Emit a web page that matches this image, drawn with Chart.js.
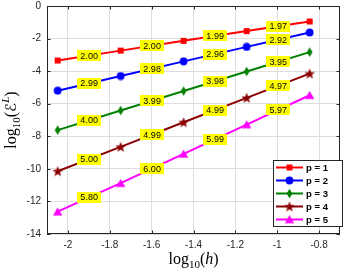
<!DOCTYPE html>
<html><head><meta charset="utf-8">
<style>html,body{margin:0;padding:0;background:#fff;}#wrap{width:346px;height:271px;}</style>
<script src="https://cdn.jsdelivr.net/npm/chart.js@4.4.1/dist/chart.umd.min.js"></script>
</head><body><div id="wrap"><canvas id="c" width="346" height="271"></canvas></div>
<script>
// ---- data ----
const logH = [-2.0492, -1.7482, -1.4472, -1.1461, -0.8451];
const errP1 = [-3.35, -2.74, -2.14, -1.54, -0.95];
const errP2 = [-5.20, -4.30, -3.40, -2.51, -1.63];
const errP3 = [-7.62, -6.42, -5.22, -4.02, -2.83];
const errP4 = [-10.15, -8.65, -7.14, -5.64, -4.15];
const errP5 = [-12.63, -10.88, -9.08, -7.28, -5.48];
const rateP1 = ['2.00', '2.00', '1.99', '1.97'];
const rateP2 = ['2.99', '2.98', '2.96', '2.92'];
const rateP3 = ['4.00', '3.99', '3.98', '3.95'];
const rateP4 = ['5.00', '4.99', '4.99', '4.97'];
const rateP5 = ['5.80', '6.00', '5.99', '5.97'];
const seriesNames = ['p = 1', 'p = 2', 'p = 3', 'p = 4', 'p = 5'];
const xTicks = [-2, -1.8, -1.6, -1.4, -1.2, -1, -0.8];
const yTicks = [0, -2, -4, -6, -8, -10, -12, -14];

const colors = ['#ff0000', '#0000ff', '#008000', '#8b0000', '#ff00ff'];
const shapes = ['square', 'circle', 'diamond', 'star', 'triangle'];
const errs = [errP1, errP2, errP3, errP4, errP5];
const rates = [rateP1, rateP2, rateP3, rateP4, rateP5];

function makeMarker(shape, color) {
  const c = document.createElement('canvas');
  let w = 8, h = 8;
  if (shape === 'circle') { w = 9; h = 9; }
  if (shape === 'diamond') { w = 7; h = 11; }
  if (shape === 'star') { w = 12; h = 12; }
  if (shape === 'triangle') { w = 11; h = 10; }
  c.width = w; c.height = h;
  const g = c.getContext('2d');
  g.fillStyle = color; g.strokeStyle = color; g.lineWidth = 1;
  g.beginPath();
  if (shape === 'square') { g.rect(1, 1, 6, 6); }
  else if (shape === 'circle') { g.arc(4.5, 4.5, 3.9, 0, Math.PI * 2); }
  else if (shape === 'diamond') { g.moveTo(3.5, 0.8); g.lineTo(6.4, 5.5); g.lineTo(3.5, 10.2); g.lineTo(0.6, 5.5); g.closePath(); }
  else if (shape === 'star') {
    for (let i = 0; i < 10; i++) {
      const r = i % 2 === 0 ? 5.6 : 2.3;
      const a = -Math.PI / 2 + i * Math.PI / 5;
      const px = 6 + r * Math.cos(a), py = 6.4 + r * Math.sin(a);
      if (i === 0) g.moveTo(px, py); else g.lineTo(px, py);
    }
    g.closePath();
  }
  else if (shape === 'triangle') { g.moveTo(5.5, 0.8); g.lineTo(10.2, 8.8); g.lineTo(0.8, 8.8); g.closePath(); }
  g.fill();
  return c;
}
const markers = shapes.map((s, i) => makeMarker(s, colors[i]));

const datasets = errs.map((e, i) => ({
  label: seriesNames[i],
  data: logH.map((x, k) => ({ x: x, y: e[k] })),
  borderColor: colors[i],
  backgroundColor: colors[i],
  borderWidth: 2,
  pointStyle: markers[i],
  pointRadius: 4,
  tension: 0,
  clip: false
}));

const FRAME = '#262626';
const GRID = '#dedede';

function drawParts(ctx, parts) {
  let w = 0;
  parts.forEach(p => { ctx.font = p.f; p.w = ctx.measureText(p.t).width; w += p.w; });
  let x = -w / 2;
  parts.forEach(p => { ctx.font = p.f; ctx.fillText(p.t, x, p.dy || 0); x += p.w; });
}

const SERIF = '"Liberation Serif","DejaVu Serif",serif';
const decor = {
  id: 'decor',
  afterDatasetsDraw(chart) {
    const ctx = chart.ctx, a = chart.chartArea;
    const xs = chart.scales.x, ys = chart.scales.y;
    ctx.save();
    // rate labels
    ctx.font = '9px "Liberation Sans", Arial, sans-serif';
    ctx.textAlign = 'center'; ctx.textBaseline = 'middle';
    errs.forEach((e, i) => {
      for (let k = 0; k < 4; k++) {
        const mx = (xs.getPixelForValue(logH[k]) + xs.getPixelForValue(logH[k + 1])) / 2;
        const my = (ys.getPixelForValue(e[k]) + ys.getPixelForValue(e[k + 1])) / 2;
        ctx.fillStyle = '#ffff00';
        ctx.fillRect(Math.round(mx - 12), Math.round(my - 5.5), 24, 11);
        ctx.fillStyle = '#000';
        ctx.fillText(rates[i][k], mx, my + 0.5);
      }
    });
    // frame
    ctx.strokeStyle = FRAME; ctx.lineWidth = 1;
    ctx.strokeRect(Math.round(a.left) + 0.5, Math.round(a.top) + 0.5, Math.round(a.right - a.left) - 1, Math.round(a.bottom - a.top) - 1);
    ctx.beginPath();
    xTicks.forEach(v => {
      const px = Math.round(xs.getPixelForValue(v)) + 0.5;
      ctx.moveTo(px, a.bottom); ctx.lineTo(px, a.bottom - 3.5);
      ctx.moveTo(px, a.top); ctx.lineTo(px, a.top + 3.5);
    });
    yTicks.forEach(v => {
      const py = Math.round(ys.getPixelForValue(v)) + 0.5;
      ctx.moveTo(a.left, py); ctx.lineTo(a.left + 3.5, py);
      ctx.moveTo(a.right, py); ctx.lineTo(a.right - 3.5, py);
    });
    ctx.stroke();
    // legend
    const lx = 273, ly = 160, lw = 70, lh = 67;
    ctx.fillStyle = '#fff';
    ctx.fillRect(lx, ly, lw, lh);
    ctx.strokeStyle = FRAME;
    ctx.strokeRect(lx + 0.5, ly + 0.5, lw - 1, lh - 1);
    ctx.textAlign = 'left'; ctx.textBaseline = 'middle';
    ctx.font = 'bold 9.5px "Liberation Sans", Arial, sans-serif';
    seriesNames.forEach((n, i) => {
      const ry = ly + 7.5 + i * 13;
      ctx.strokeStyle = colors[i]; ctx.lineWidth = 2;
      ctx.beginPath(); ctx.moveTo(276, ry); ctx.lineTo(303, ry); ctx.stroke();
      const m = markers[i];
      ctx.drawImage(m, 289.5 - m.width / 2, ry - m.height / 2);
      ctx.fillStyle = '#000';
      ctx.fillText(n, 306, ry + 0.5);
    });
    // axis titles
    ctx.fillStyle = '#000';
    ctx.textAlign = 'left'; ctx.textBaseline = 'alphabetic';
    ctx.save();
    ctx.translate((a.left + a.right) / 2, 264);
    drawParts(ctx, [
      { t: 'log', f: '16px ' + SERIF },
      { t: '10', f: '11px ' + SERIF, dy: 4 },
      { t: '(', f: '16px ' + SERIF },
      { t: 'h', f: 'italic 16px ' + SERIF },
      { t: ')', f: '16px ' + SERIF }
    ]);
    ctx.restore();
    ctx.save();
    ctx.translate(16, (a.top + a.bottom) / 2);
    ctx.rotate(-Math.PI / 2);
    drawParts(ctx, [
      { t: 'log', f: '16px ' + SERIF },
      { t: '10', f: '11px ' + SERIF, dy: 4 },
      { t: '(', f: '16px ' + SERIF },
      { t: '\u2130', f: '15px "DejaVu Sans", "DejaVu Serif", sans-serif' },
      { t: 'L', f: 'italic 11px ' + SERIF, dy: -7 },
      { t: ')', f: '16px ' + SERIF }
    ]);
    ctx.restore();
    ctx.restore();
  }
};

new Chart(document.getElementById('c'), {
  type: 'line',
  data: { datasets: datasets },
  options: {
    responsive: false,
    animation: false,
    devicePixelRatio: 1,
    layout: { padding: { left: 0, right: 0.7, top: 4.5, bottom: 0 } },
    plugins: { legend: { display: false }, tooltip: { enabled: false } },
    scales: {
      x: {
        type: 'linear', min: -2.1, max: -0.7,
        afterBuildTicks: s => { s.ticks = xTicks.map(v => ({ value: v })); },
        afterFit: s => { s.height = 37; s.paddingLeft = 0; s.paddingRight = 0; },
        grid: { color: GRID, drawTicks: false, lineWidth: 1 },
        border: { display: false },
        ticks: { color: FRAME, padding: 5, maxRotation: 0, autoSkip: false,
          font: { family: '"Liberation Sans", Arial, sans-serif', size: 10 },
          callback: v => String(Math.round(v * 10) / 10) }
      },
      y: {
        type: 'linear', min: -14, max: 0,
        afterBuildTicks: s => { s.ticks = yTicks.map(v => ({ value: v })); },
        afterFit: s => { s.width = 47; s.paddingTop = 0; s.paddingBottom = 0; },
        grid: { color: GRID, drawTicks: false, lineWidth: 1 },
        border: { display: false },
        ticks: { color: FRAME, padding: 6, autoSkip: false,
          font: { family: '"Liberation Sans", Arial, sans-serif', size: 10 },
          callback: v => String(Math.round(v)) }
      }
    }
  },
  plugins: [decor]
});
</script></body></html>
